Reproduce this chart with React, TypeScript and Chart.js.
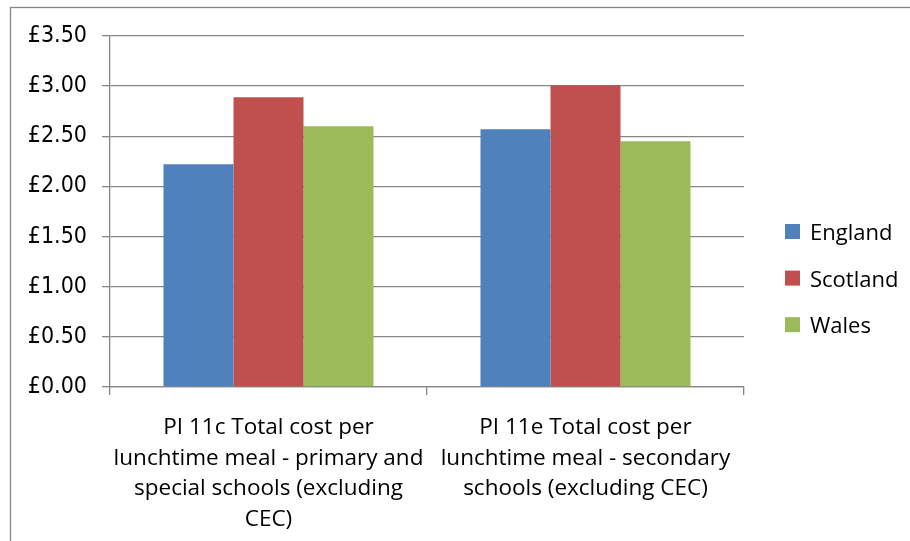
import React, { useEffect, useRef } from "react";
import { Chart, registerables } from "chart.js";

Chart.register(...registerables);

// Category labels, already broken into lines
const categories: string[][] = [
  ["PI 11c Total cost per", "lunchtime meal - primary and", "special schools (excluding", "CEC)"],
  ["PI 11e Total cost per", "lunchtime meal - secondary", "schools (excluding CEC)"],
];

const seriesNames = ["England", "Scotland", "Wales"];
const seriesColors = ["#4F81BD", "#C0504D", "#9BBB59"];

const england = [2.22, 2.57];
const scotland = [2.89, 3.01];
const wales = [2.6, 2.45];

const yMin = 0;
const yMax = 3.5;
const yStep = 0.5;

const GRID = "#868686";

// Grey frame around the whole chart
const framePlugin = {
  id: "frame",
  beforeDraw(chart: Chart) {
    const ctx = chart.ctx;
    ctx.save();
    ctx.strokeStyle = GRID;
    ctx.lineWidth = 1.3;
    ctx.strokeRect(10.5, 7.5, 1200, 1200);
    ctx.restore();
  },
};

// Legend with square swatches to the right of the plot
const legendPlugin = {
  id: "squareLegend",
  afterDraw(chart: Chart) {
    const ctx = chart.ctx;
    ctx.save();
    ctx.font = "22px 'Open Sans'";
    ctx.textBaseline = "middle";
    ctx.textAlign = "left";
    chart.data.datasets.forEach((ds: any, i: number) => {
      const top = 224 + i * 46.6;
      ctx.fillStyle = ds.backgroundColor;
      ctx.fillRect(785, top, 15, 15);
      ctx.fillStyle = "#000";
      ctx.fillText(ds.label, 810, top + 10);
    });
    ctx.restore();
  },
};

export default function App() {
  const ref = useRef<HTMLCanvasElement | null>(null);

  useEffect(() => {
    if (!ref.current) return;
    const values = [england, scotland, wales];
    const chart = new Chart(ref.current, {
      type: "bar",
      data: {
        labels: categories,
        datasets: seriesNames.map((name, i) => ({
          label: name,
          data: values[i],
          backgroundColor: seriesColors[i],
          borderWidth: 0,
          categoryPercentage: 0.6625,
          barPercentage: 1,
        })),
      },
      options: {
        animation: false,
        responsive: false,
        layout: { padding: { left: 0, top: 36, right: 166, bottom: 0 } },
        plugins: {
          legend: { display: false },
          tooltip: { enabled: false },
        },
        scales: {
          x: {
            grid: {
              offset: true,
              drawOnChartArea: false,
              drawTicks: true,
              tickLength: 8,
              color: GRID,
              lineWidth: 1.3,
            },
            border: { color: GRID, width: 1.3 },
            ticks: {
              color: "#000",
              font: { family: "'Open Sans'", size: 22.5, lineHeight: 1.37 },
              padding: 17,
              maxRotation: 0,
              autoSkip: false,
            },
            afterFit(scale: any) {
              scale.height = 154;
            },
          },
          y: {
            min: yMin,
            max: yMax,
            grid: {
              color: GRID,
              lineWidth: 1.3,
              tickLength: 8,
              drawTicks: true,
            },
            border: { color: GRID, width: 1.3 },
            ticks: {
              stepSize: yStep,
              color: "#000",
              font: { family: "'DejaVu Sans Condensed', 'DejaVu Sans'", size: 23 },
              padding: 15,
              callback: (v: any) => "£" + Number(v).toFixed(2),
            },
            afterFit(scale: any) {
              scale.width = 110;
            },
          },
        },
      },
      plugins: [framePlugin, legendPlugin],
    });
    return () => chart.destroy();
  }, []);

  return (
    <div style={{ position: "absolute", left: 0, top: 0, width: 910, height: 541, background: "#fff" }}>
      <canvas ref={ref} width={910} height={541} style={{ display: "block" }} />
    </div>
  );
}
